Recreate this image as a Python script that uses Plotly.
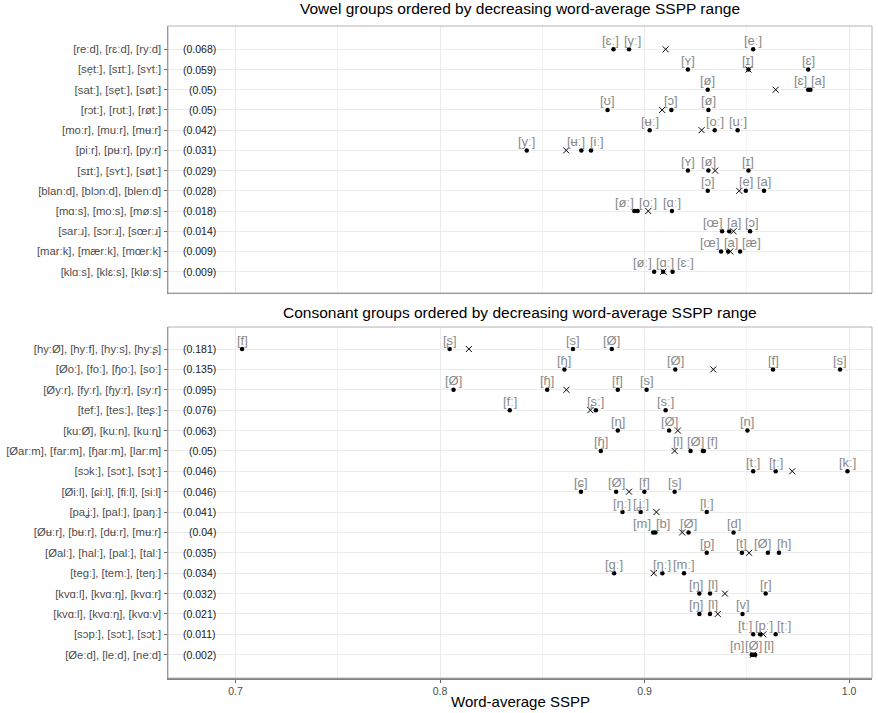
import plotly.graph_objects as go

# ---------------- data ----------------
V_GROUPS = [
    "[reːd], [rɛːd], [ryːd]",
    "[se̞tː], [sɪtː], [sʏtː]",
    "[satː], [se̞tː], [søtː]",
    "[rɔtː], [rʊtː], [røtː]",
    "[moːr], [muːr], [mʉːr]",
    "[piːr], [pʉːr], [pyːr]",
    "[sɪtː], [sʏtː], [søtː]",
    "[blanːd], [blɔnːd], [blenːd]",
    "[mɑːs], [moːs], [møːs]",
    "[sarːɹ], [sɔrːɹ], [sœrːɹ]",
    "[marːk], [mærːk], [mœrːk]",
    "[klɑːs], [klɛːs], [kløːs]",
]
V_RANGES = ["(0.068)", "(0.059)", "(0.05)", "(0.05)", "(0.042)", "(0.031)",
            "(0.029)", "(0.028)", "(0.018)", "(0.014)", "(0.009)", "(0.009)"]
V_LABELS = [
    ["[ɛː]", "[yː]", "[eː]"],
    ["[ʏ]", "[ɪ]", "[ɛ]"],
    ["[ø]", "[ɛ]", "[a]"],
    ["[ʊ]", "[ɔ]", "[ø]"],
    ["[ʉː]", "[oː]", "[uː]"],
    ["[yː]", "[ʉː]", "[iː]"],
    ["[ʏ]", "[ø]", "[ɪ]"],
    ["[ɔ]", "[e]", "[a]"],
    ["[øː]", "[oː]", "[ɑː]"],
    ["[œ]", "[a]", "[ɔ]"],
    ["[œ]", "[a]", "[æ]"],
    ["[øː]", "[ɑː]", "[ɛː]"],
]
V_VALUES = [
    [0.8848, 0.8924, 0.9531],
    [0.9212, 0.9508, 0.9800],
    [0.9309, 0.9800, 0.9811],
    [0.8819, 0.9131, 0.9312],
    [0.9025, 0.9343, 0.9455],
    [0.8424, 0.8691, 0.8738],
    [0.9212, 0.9312, 0.9508],
    [0.9309, 0.9495, 0.9584],
    [0.8950, 0.8966, 0.9134],
    [0.9379, 0.9414, 0.9516],
    [0.9374, 0.9409, 0.9467],
    [0.9047, 0.9091, 0.9137],
]
V_MEANS = [0.9103, 0.9508, 0.9641, 0.9086, 0.9279, 0.8617,
           0.9345, 0.9463, 0.9018, 0.9435, 0.9419, 0.9092]

C_GROUPS = [
    "[hyːØ], [hyːf], [hyːs], [hyːʂ]",
    "[Øoː], [foː], [ɧoː], [soː]",
    "[Øyːr], [fyːr], [ɧyːr], [syːr]",
    "[tefː], [tesː], [teʂː]",
    "[kuːØ], [kuːn], [kuːɳ]",
    "[Øarːm], [farːm], [ɧarːm], [larːm]",
    "[sɔkː], [sɔtː], [sɔʈː]",
    "[Øiːl], [ɕiːl], [fiːl], [siːl]",
    "[paʝː], [palː], [paŋː]",
    "[Øʉːr], [bʉːr], [dʉːr], [mʉːr]",
    "[Øalː], [halː], [palː], [talː]",
    "[tegː], [temː], [teŋː]",
    "[kvɑːl], [kvɑːŋ], [kvɑːr]",
    "[kvɑːl], [kvɑːŋ], [kvɑːv]",
    "[sɔpː], [sɔtː], [sɔʈː]",
    "[Øeːd], [leːd], [neːd]",
]
C_RANGES = ["(0.181)", "(0.135)", "(0.095)", "(0.076)", "(0.063)", "(0.05)",
            "(0.046)", "(0.046)", "(0.041)", "(0.04)", "(0.035)", "(0.034)",
            "(0.032)", "(0.021)", "(0.011)", "(0.002)"]
C_LABELS = [
    ["[f]", "[ʂ]", "[s]", "[Ø]"],
    ["[ɧ]", "[Ø]", "[f]", "[s]"],
    ["[Ø]", "[ɧ]", "[f]", "[s]"],
    ["[fː]", "[ʂː]", "[sː]"],
    ["[ɳ]", "[Ø]", "[n]"],
    ["[ɧ]", "[l]", "[Ø]", "[f]"],
    ["[tː]", "[ʈː]", "[kː]"],
    ["[ɕ]", "[Ø]", "[f]", "[s]"],
    ["[ŋː]", "[ʝː]", "[lː]"],
    ["[m]", "[b]", "[Ø]", "[d]"],
    ["[p]", "[t]", "[Ø]", "[h]"],
    ["[gː]", "[ŋː]", "[mː]"],
    ["[ŋ]", "[l]", "[r]"],
    ["[ŋ]", "[l]", "[v]"],
    ["[tː]", "[pː]", "[ʈː]"],
    ["[n]", "[Ø]", "[l]"],
]
C_VALUES = [
    [0.7032, 0.8047, 0.8650, 0.8840],
    [0.8608, 0.9150, 0.9628, 0.9956],
    [0.8066, 0.8524, 0.8869, 0.9010],
    [0.8341, 0.8762, 0.9103],
    [0.8869, 0.9120, 0.9503],
    [0.8786, 0.9225, 0.9285, 0.9290],
    [0.9531, 0.9641, 0.9992],
    [0.8689, 0.8861, 0.8999, 0.9147],
    [0.8892, 0.8981, 0.9304],
    [0.9042, 0.9053, 0.9215, 0.9435],
    [0.9304, 0.9476, 0.9603, 0.9657],
    [0.8851, 0.9087, 0.9193],
    [0.9268, 0.9320, 0.9592],
    [0.9268, 0.9320, 0.9479],
    [0.9531, 0.9565, 0.9641],
    [0.9524, 0.9531, 0.9541],
]
C_MEANS = [0.8141, 0.9336, 0.8618, 0.8735, 0.9163, 0.9147, 0.9722, 0.8924,
           0.9058, 0.9184, 0.9511, 0.9045, 0.9393, 0.9358, 0.9581, 0.9531]

X_TICKS = [0.7, 0.8, 0.9, 1.0]
X_TICKTEXT = ["0.7", "0.8", "0.9", "1.0"]

# ---------------- styles ----------------
FONT = "Liberation Sans, Arial, DejaVu Sans, sans-serif"
LABEL_COLOR = "#8a8a8a"
TICK_COLOR = "#4d4d4d"
GRID = "#ebebeb"
X_RANGE = [0.667, 1.0112]
RANGE_TEXT_X = 0.6913
TITLE_SHIFT = [7, 4]
# horizontal pixel nudges for repelled labels: (panel, row, index) -> px
NUDGE = {
    (0, 0, 0): -3, (0, 0, 1): 3,
    (0, 2, 1): -8, (0, 2, 2): 8,
    (0, 5, 1): -5, (0, 5, 2): 6,
    (0, 8, 0): -10, (0, 8, 1): 10,
    (0, 9, 0): -9, (0, 9, 1): 5, (0, 9, 2): 2,
    (0, 10, 0): -11, (0, 10, 1): 3, (0, 10, 2): 11,
    (0, 11, 0): -12, (0, 11, 1): 2, (0, 11, 2): 13,
    (1, 5, 1): -13, (1, 5, 2): -7, (1, 5, 3): 9,
    (1, 9, 0): -11, (1, 9, 1): 8,
    (1, 10, 2): -5, (1, 10, 3): 5,
    (1, 12, 0): -3, (1, 12, 1): 3,
    (1, 13, 0): -3, (1, 13, 1): 3,
    (1, 14, 0): -8, (1, 14, 1): 4, (1, 14, 2): 8,
    (1, 15, 0): -15, (1, 15, 2): 14,
}

fig = go.Figure()
annotations = []
shapes = []

panels = [
    (V_GROUPS, V_RANGES, V_LABELS, V_VALUES, V_MEANS, "x", "y",
     "Vowel groups ordered by decreasing word-average SSPP range"),
    (C_GROUPS, C_RANGES, C_LABELS, C_VALUES, C_MEANS, "x2", "y2",
     "Consonant groups ordered by decreasing word-average SSPP range"),
]

for p, (groups, ranges, labels, values, means, xa, ya, title) in enumerate(panels):
    px, py = [], []
    for r, vals in enumerate(values):
        for i, v in enumerate(vals):
            px.append(v)
            py.append(r + 1)
            annotations.append(dict(
                x=v, y=r + 1, xref=xa, yref=ya, text=labels[r][i],
                showarrow=False, yshift=9, xshift=NUDGE.get((p, r, i), 0),
                font=dict(family=FONT, size=13, color=LABEL_COLOR)))
    fig.add_trace(go.Scatter(
        x=px, y=py, mode="markers", xaxis=xa, yaxis=ya, showlegend=False,
        hoverinfo="skip",
        marker=dict(color="black", size=4.5, symbol="circle")))
    fig.add_trace(go.Scatter(
        x=means, y=list(range(1, len(means) + 1)), mode="markers",
        xaxis=xa, yaxis=ya, showlegend=False, hoverinfo="skip",
        marker=dict(symbol="x-thin", size=6, color="black",
                    line=dict(color="black", width=1))))
    for r, txt in enumerate(ranges):
        annotations.append(dict(
            x=RANGE_TEXT_X, y=r + 1, xref=xa, yref=ya, text=txt,
            showarrow=False, xanchor="right",
            font=dict(family=FONT, size=10.5, color="#1a1a1a")))
    # panel title
    annotations.append(dict(
        x=0.5, y=1, xref=xa + " domain", yref=ya + " domain", text=title,
        showarrow=False, yanchor="bottom", yshift=TITLE_SHIFT[p],
        font=dict(family=FONT, size=15.5, color="black")))
    # panel border
    shapes.append(dict(type="rect", xref=xa + " domain", yref=ya + " domain",
                       x0=0, x1=1, y0=0, y1=1,
                       line=dict(color="#b3b3b3", width=1)))

axis_common = dict(
    range=X_RANGE, showgrid=True, gridcolor=GRID, gridwidth=1,
    tickvals=X_TICKS, zeroline=False,
    minor=dict(showgrid=True, gridcolor=GRID, gridwidth=0.6,
               tick0=0.75, dtick=0.1),
)
ycommon = dict(
    showgrid=True, gridcolor=GRID, gridwidth=1, zeroline=False,
    ticks="outside", ticklen=3, tickcolor="#666666",
    showline=True, linecolor="#808080", linewidth=1.5,
    tickfont=dict(family=FONT, size=11.3, color=TICK_COLOR),
)

fig.update_layout(
    width=878, height=713,
    margin=dict(l=163, r=6, t=26, b=35),
    paper_bgcolor="white", plot_bgcolor="white",
    hovermode=False,
    xaxis=dict(domain=[0, 1], anchor="y", showticklabels=False, ticks="",
               showline=True, linecolor="#808080", linewidth=1.5,
               **axis_common),
    yaxis=dict(domain=[0.5905, 1], anchor="x",
               range=[13.053, -0.152],
               tickvals=list(range(1, len(V_GROUPS) + 1)),
               ticktext=V_GROUPS, **ycommon),
    xaxis2=dict(domain=[0, 1], anchor="y2", ticktext=X_TICKTEXT,
                ticks="outside", ticklen=3, tickcolor="#666666",
                showline=True, linecolor="#808080", linewidth=1.5,
                tickfont=dict(family=FONT, size=10.5, color=TICK_COLOR),
                **axis_common),
    yaxis2=dict(domain=[0, 0.5383], anchor="x2",
                range=[17.143, -0.08],
                tickvals=list(range(1, len(C_GROUPS) + 1)),
                ticktext=C_GROUPS, **ycommon),
    annotations=annotations + [dict(
        x=0.5, y=0, xref="x2 domain", yref="paper", text="Word-average SSPP",
        showarrow=False, yanchor="bottom", yshift=-34,
        font=dict(family=FONT, size=15, color="black"))],
    shapes=shapes,
)

fig.write_html(
    "out.html",
    config={"displayModeBar": False, "staticPlot": True},
    post_script="document.body.style.margin='0px';"
                "document.body.style.overflow='hidden';",
)
